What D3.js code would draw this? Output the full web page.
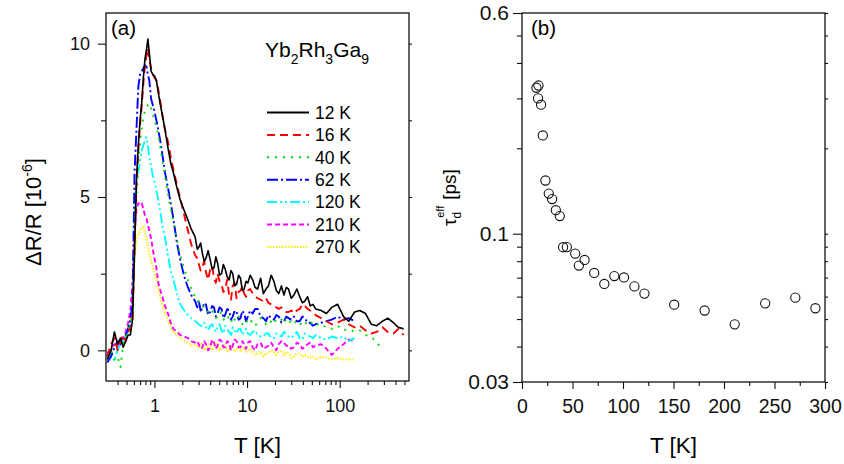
<!DOCTYPE html>
<html>
<head>
<meta charset="utf-8">
<script src="https://cdn.jsdelivr.net/npm/d3@7"></script>
<style>
body { margin: 0; background: #fff; }
svg { font-family: "Liberation Sans", Arial, sans-serif; }
.frame { fill: none; stroke: #111; stroke-width: 1.3; }
.tick line { stroke: #111; stroke-width: 1.1; }
.tick text { fill: #111; }
.trace { fill: none; stroke-linejoin: round; }
</style>
</head>
<body>
<svg id="chart" width="844" height="464"></svg>
<script>

/* Data */

// (a) pump-probe delay axis, shared by all traces
var delay = [0.31, 0.34, 0.37, 0.40, 0.43, 0.46, 0.49, 0.52, 0.55, 0.58,
    0.61, 0.64, 0.67, 0.70, 0.73, 0.76, 0.79, 0.82, 0.85, 0.88, 0.92, 0.96,
    1.0, 1.05, 1.1, 1.16, 1.23, 1.3, 1.4, 1.5, 1.6, 1.75, 1.9, 2.1, 2.3, 2.5,
    2.75, 2.9, 3.0, 3.15, 3.3, 3.45, 3.6, 3.8, 4.0, 4.2, 4.4, 4.6, 4.8, 5.05,
    5.3, 5.55, 5.8, 6.1, 6.4, 6.7, 7.0, 7.35, 7.7, 8.1, 8.5, 8.9, 9.3, 9.75,
    10.2, 10.8, 11.5, 12.2, 13, 14, 15, 16, 17, 18.2, 19.5, 20.7, 22, 23.5,
    25, 26.5, 28, 30, 32, 34.5, 37, 39.5, 42, 45, 48, 51.5, 55,
    63, 72, 82, 95, 110, 125, 145, 165, 190, 220, 250, 290, 330, 380, 430, 490];

var dr12K = [-0.3, 0.0, 0.6, 0.2, 0.4, 0.1, 0.3, 0.5, 0.5, 1.0,
    3.2, 5.6, 6.7, 7.5, 8.1, 8.9, 9.5, 9.8, 10.15, 9.7, 9.1, 9.0,
    8.95, 8.8, 8.4, 8.0, 7.6, 7.2, 6.6, 6.1, 5.8, 5.3, 4.9, 4.55, 4.25, 3.95,
    3.7, 3.3, 3.35, 3.5, 3.15, 2.9, 3.0, 3.25, 2.95, 2.65, 2.7, 3.05, 2.85, 2.45,
    2.5, 2.8, 2.65, 2.4, 2.3, 2.6, 2.5, 2.1, 2.15, 2.45, 2.35, 1.95, 2.0, 2.25,
    2.2, 2.45, 2.3, 2.05, 2.0, 2.35, 1.85, 2.0, 2.1, 2.45, 2.25, 1.95, 1.85, 2.1,
    1.8, 2.05, 2.0, 1.7, 1.8, 2.0, 1.75, 1.55, 1.6, 1.75, 1.45, 1.5, 1.35,
    1.3, 1.2, 1.4, 1.5, 1.1, 0.95, 1.25, 1.3, 1.2, 0.85, 0.8, 0.95, 1.05, 0.9, 0.75, 0.7];

var dr16K = [-0.2, 0.2, 0.4, 0.0, 0.3, 0.5, 0.3, 0.6, 0.7, 1.0,
    3.4, 5.5, 6.5, 7.4, 8.0, 8.7, 9.3, 9.6, 9.85, 9.5, 9.2, 9.0,
    8.9, 8.8, 8.5, 8.1, 7.6, 7.2, 6.8, 6.3, 5.9, 5.4, 4.95, 4.4, 3.9, 3.45,
    3.1, 3.0, 2.85, 2.6, 2.75, 2.9, 2.55, 2.3, 2.65, 2.75, 2.35, 2.2, 2.5, 2.25,
    2.15, 1.9, 2.0, 2.3, 1.8, 1.65, 2.1, 2.2, 1.7, 1.9, 1.95, 2.1, 1.85, 1.75,
    1.95, 2.0, 1.85, 1.75, 1.7, 1.65, 1.6, 1.7, 1.55, 1.5, 1.45, 1.4, 1.35, 1.4,
    1.3, 1.25, 1.25, 1.3, 1.2, 1.3, 1.35, 1.5, 1.45, 1.35, 1.3, 1.25, 1.15,
    1.05, 0.95, 0.85, 0.9, 1.0, 0.85, 0.75, 0.8, 0.65, 0.55, 0.6, 0.75, 0.6, 0.55, 0.7, 0.5];

var dr40K = [-0.2, 0.0, -0.3, -0.2, -0.55, 0.2, 0.4, 0.6, 0.9, 1.2,
    3.5, 5.0, 6.0, 6.8, 7.3, 7.6, 7.8, 7.9, 8.0, 8.05, 7.9, 7.7,
    7.5, 7.3, 7.0, 6.6, 6.1, 5.7, 5.1, 4.6, 4.2, 3.6, 3.1, 2.65, 2.3, 2.0,
    1.75, 1.65, 1.6, 1.5, 1.4, 1.45, 1.35, 1.25, 1.2, 1.3, 1.15, 1.05, 1.1, 1.25,
    1.2, 1.0, 1.05, 1.15, 1.0, 0.9, 1.1, 1.0, 0.95, 1.1, 1.0, 0.85, 0.9, 1.0,
    0.85, 0.95, 0.95, 0.8, 0.9, 1.05, 1.0, 0.85, 0.8, 0.95, 1.05, 0.9, 0.95, 1.0,
    1.1, 0.9, 0.85, 1.0, 1.0, 0.85, 0.8, 0.95, 0.95, 0.8, 0.85, 0.95, 0.9,
    0.75, 0.8, 0.7, 0.8, 0.65, 0.7, 0.6, 0.65, 0.5, 0.45, 0.25, 0.05];

var dr62K = [-0.4, -0.2, 0.1, 0.3, 0.2, 0.4, 0.5, 0.7, 1.0, 1.6,
    5.8, 7.2, 8.6, 9.0, 9.1, 9.2, 9.3, 9.25, 9.0, 8.8, 8.2, 8.0,
    7.8, 7.5, 7.2, 6.8, 6.3, 5.8, 5.3, 4.8, 4.3, 3.5, 2.95, 2.4, 2.05, 1.8,
    1.6, 1.4, 1.65, 1.3, 1.35, 1.55, 1.5, 1.15, 1.25, 1.45, 1.4, 1.1, 1.2, 1.4,
    1.35, 1.05, 1.15, 1.35, 1.3, 1.0, 1.1, 1.3, 1.25, 1.0, 1.05, 1.3, 1.2, 0.95,
    1.1, 1.3, 1.2, 1.35, 1.35, 1.1, 1.05, 0.95, 1.15, 1.05, 1.0, 1.15, 1.1, 0.9,
    0.95, 1.1, 1.05, 1.0, 1.1, 0.95, 0.95, 1.1, 1.05, 0.9, 0.9, 0.8, 0.85,
    0.9, 0.95, 1.0, 1.1, 1.0, 1.05, 0.95];

var dr120K = [-0.3, -0.1, -0.35, 0.0, 0.2, 0.3, 0.5, 0.6, 0.9, 1.3,
    4.5, 5.5, 5.8, 6.2, 6.5, 6.7, 6.85, 6.95, 6.7, 6.3, 6.0, 5.7,
    5.5, 5.2, 4.9, 4.5, 4.0, 3.7, 3.1, 2.6, 2.3, 1.85, 1.5, 1.3, 1.15, 1.05,
    0.95, 0.9, 0.85, 0.8, 0.8, 0.9, 0.75, 0.65, 0.8, 0.85, 0.7, 0.6, 0.75, 0.85,
    0.65, 0.55, 0.8, 0.7, 0.6, 0.5, 0.75, 0.65, 0.55, 0.7, 0.7, 0.5, 0.6, 0.7,
    0.55, 0.5, 0.6, 0.65, 0.5, 0.45, 0.45, 0.55, 0.55, 0.4, 0.4, 0.55, 0.5, 0.45,
    0.6, 0.55, 0.45, 0.4, 0.5, 0.6, 0.4, 0.35, 0.55, 0.5, 0.45, 0.4, 0.5,
    0.4, 0.35, 0.45, 0.4, 0.45, 0.3, 0.4];

var dr210K = [-0.1, 0.1, 0.2, 0.1, 0.3, 0.4, 0.6, 0.9, 1.3, 2.2,
    3.8, 4.6, 4.8, 4.75, 4.8, 4.6, 4.4, 4.3, 4.1, 3.9, 3.65, 3.3,
    3.0, 2.7, 2.2, 1.95, 1.7, 1.45, 1.2, 0.9, 0.7, 0.6, 0.5, 0.45, 0.4, 0.3,
    0.25, 0.3, 0.2, 0.05, 0.1, 0.3, 0.2, 0.0, 0.1, 0.35, 0.25, 0.05, 0.15, 0.35,
    0.3, 0.1, 0.1, 0.3, 0.25, 0.0, 0.15, 0.35, 0.3, 0.1, 0.1, 0.3, 0.2, 0.05,
    0.25, 0.3, 0.1, 0.0, 0.2, 0.25, 0.05, 0.1, 0.15, 0.25, 0.1, 0.0, 0.2, 0.3,
    0.25, 0.15, 0.15, 0.05, 0.1, 0.25, 0.2, 0.05, 0.1, 0.2, 0.25, 0.1, 0.15,
    0.2, 0.05, -0.15, 0.05, 0.2, 0.35, 0.3];

var dr270K = [-0.2, 0.0, 0.15, 0.1, 0.35, 0.3, 0.55, 0.8, 1.0, 1.6,
    3.0, 3.6, 3.8, 3.9, 4.0, 4.05, 3.85, 3.65, 3.4, 3.15, 2.95, 2.7,
    2.5, 2.3, 2.05, 1.7, 1.45, 1.2, 1.0, 0.75, 0.6, 0.5, 0.4, 0.3, 0.25, 0.15,
    0.2, 0.1, 0.1, 0.25, 0.2, 0.0, 0.05, 0.2, 0.15, 0.0, 0.1, 0.25, 0.2, 0.0,
    0.05, 0.2, 0.15, -0.05, 0.0, 0.15, 0.1, -0.05, 0.05, 0.1, -0.05, 0.05, 0.1, -0.05,
    0.0, 0.05, -0.05, -0.15, -0.1, -0.05, -0.2, -0.1, -0.1, 0.0, -0.05, -0.15, -0.05, 0.0,
    -0.15, -0.05, -0.1, -0.25, -0.2, -0.1, -0.1, -0.2, -0.15, -0.2, -0.25, -0.2, -0.3,
    -0.2, -0.25, -0.3, -0.25, -0.3, -0.3, -0.3];

var traceLabels = ["12 K", "16 K", "40 K", "62 K", "120 K", "210 K", "270 K"];
var traceValues = [dr12K, dr16K, dr40K, dr62K, dr120K, dr210K, dr270K];
var traceColors = ["#000000", "#ff0000", "#00dd00", "#0000ff", "#00ffff", "#ff00ff", "#ffee00"];
var traceDash = [null, "8,5", "2,6", "11,3,2,3", "10,3,2,3,2,3", "5,3", "1.5,1.5"];

var aTicksX = [1, 10, 100];
var aMinorX = [0.4, 0.5, 0.6, 0.7, 0.8, 0.9, 2, 3, 4, 5, 6, 7, 8, 9,
    20, 30, 40, 50, 60, 70, 80, 90, 200, 300, 400, 500];
var aTicksY = [0, 5, 10];
var aMinorY = [2.5, 7.5];

// (b) effective decay time vs temperature
var tempK = [14.3, 16.3, 15.9, 18.9, 20.6, 23.2, 26.5, 29.8, 33.5, 37.4,
    40.7, 44.4, 52.7, 56.3, 62, 71.5, 81.5, 91.4, 101, 111.3,
    121.2, 150.7, 180.8, 210.6, 240.8, 270.6, 290.5];
var tauEff = [0.327, 0.333, 0.300, 0.285, 0.222, 0.154, 0.1385, 0.1325, 0.121, 0.1154,
    0.0896, 0.0897, 0.0851, 0.0772, 0.0808, 0.0727, 0.0665, 0.0709, 0.0701, 0.0652,
    0.0615, 0.0562, 0.0536, 0.0479, 0.0568, 0.0595, 0.0546];

var bTicksX = [0, 50, 100, 150, 200, 250, 300];
var bMinorX = [25, 75, 125, 175, 225, 275];
var bTicksY = [0.03, 0.1, 0.6];
var bMinorY = [0.04, 0.05, 0.06, 0.07, 0.08, 0.09, 0.2, 0.3, 0.4, 0.5];

/* Renderer */

var svg = d3.select("#chart");

var draw_ticks = function (g, axis, cls) {
    g.attr("class", cls).call(axis);
    g.select(".domain").remove();
    return g;
};

// ---------- panel (a)
var xa = d3.scaleLog().domain([0.3, 560]).range([106, 409]);
var ya = d3.scaleLinear().domain([-1, 11]).range([381, 13]);

svg.append("clipPath").attr("id", "clipA")
    .append("rect")
    .attr("x", 106).attr("y", 13)
    .attr("width", 303).attr("height", 368);

var line = d3.line()
    .defined(function (d) { return d[1] != null; })
    .x(function (d) { return xa(d[0]); })
    .y(function (d) { return ya(d[1]); });

var traces = svg.append("g").attr("clip-path", "url(#clipA)");

// draw slow curves first so black stays on top
for (var k = traceValues.length - 1; k >= 0; k--) {
    var pts = traceValues[k].map(function (v, i) { return [delay[i], v]; });
    traces.append("path")
        .attr("class", "trace")
        .attr("d", line(pts))
        .attr("stroke", traceColors[k])
        .attr("stroke-width", k === 0 ? 1.6 : 1.9)
        .attr("stroke-dasharray", traceDash[k]);
}

draw_ticks(svg.append("g").attr("transform", "translate(0,381)"),
    d3.axisBottom(xa).tickValues(aTicksX).tickSize(7).tickPadding(11)
        .tickFormat(d3.format("d")), "ax")
    .selectAll("text").style("font-size", "18px");
draw_ticks(svg.append("g").attr("transform", "translate(0,381)"),
    d3.axisBottom(xa).tickValues(aMinorX).tickSize(4).tickFormat(""), "ax");

draw_ticks(svg.append("g").attr("transform", "translate(106,0)"),
    d3.axisLeft(ya).tickValues(aTicksY).tickSize(8).tickPadding(8)
        .tickFormat(d3.format("d")), "ax")
    .selectAll("text").style("font-size", "18px");
draw_ticks(svg.append("g").attr("transform", "translate(106,0)"),
    d3.axisLeft(ya).tickValues(aMinorY).tickSize(5).tickFormat(""), "ax");
draw_ticks(svg.append("g").attr("transform", "translate(409,0)"),
    d3.axisRight(ya).tickValues(aTicksY.concat(aMinorY)).tickSize(3).tickFormat(""), "ax");

svg.append("rect").attr("class", "frame")
    .attr("x", 106).attr("y", 13).attr("width", 303).attr("height", 368);

svg.append("text").attr("x", 111).attr("y", 35)
    .style("font-size", "20.5px").text("(a)");

// compound label
var comp = svg.append("text").attr("x", 265).attr("y", 57).style("font-size", "21px");
comp.append("tspan").text("Yb");
comp.append("tspan").attr("dy", 7).style("font-size", "14px").text("2");
comp.append("tspan").attr("dy", -7).text("Rh");
comp.append("tspan").attr("dy", 7).style("font-size", "14px").text("3");
comp.append("tspan").attr("dy", -7).text("Ga");
comp.append("tspan").attr("dy", 7).style("font-size", "14px").text("9");

// legend
var legend = svg.append("g");
traceLabels.forEach(function (lab, i) {
    var y = 112.5 + i * 22.4;
    legend.append("line")
        .attr("x1", 267).attr("x2", 309).attr("y1", y).attr("y2", y)
        .attr("stroke", traceColors[i])
        .attr("stroke-width", i === 0 ? 1.8 : 2)
        .attr("stroke-dasharray", traceDash[i]);
    legend.append("text")
        .attr("x", 315).attr("y", y + 6.3)
        .style("font-size", "17.5px")
        .text(lab);
});

svg.append("text").attr("x", 257.5).attr("y", 453)
    .attr("text-anchor", "middle").style("font-size", "22.5px").text("T [K]");

var ylabA = svg.append("text")
    .attr("transform", "translate(41,212) rotate(-90)")
    .attr("text-anchor", "middle").style("font-size", "22px");
ylabA.append("tspan").text("\u0394R/R [10");
ylabA.append("tspan").attr("dy", -9).style("font-size", "14px").text("-6");
ylabA.append("tspan").attr("dy", 9).text("]");

// ---------- panel (b)
var xb = d3.scaleLinear().domain([0, 300]).range([522, 825]);
var yb = d3.scaleLog().domain([0.03, 0.6]).range([382, 13]);

draw_ticks(svg.append("g").attr("transform", "translate(0,382)"),
    d3.axisBottom(xb).tickValues(bTicksX).tickSize(7).tickPadding(10)
        .tickFormat(d3.format("d")), "ax")
    .selectAll("text").style("font-size", "19.5px");
draw_ticks(svg.append("g").attr("transform", "translate(0,382)"),
    d3.axisBottom(xb).tickValues(bMinorX).tickSize(4).tickFormat(""), "ax");

draw_ticks(svg.append("g").attr("transform", "translate(522,0)"),
    d3.axisLeft(yb).tickValues(bTicksY).tickSize(9).tickPadding(4)
        .tickFormat(function (d) { return String(d); }), "ax")
    .selectAll("text").style("font-size", "21px");
draw_ticks(svg.append("g").attr("transform", "translate(522,0)"),
    d3.axisLeft(yb).tickValues(bMinorY).tickSize(5).tickFormat(""), "ax");
draw_ticks(svg.append("g").attr("transform", "translate(825,0)"),
    d3.axisRight(yb).tickValues(bTicksY.concat(bMinorY)).tickSize(3).tickFormat(""), "ax");

svg.append("g").selectAll("circle")
    .data(tempK.map(function (t, i) { return [t, tauEff[i]]; }))
    .enter().append("circle")
    .attr("cx", function (d) { return xb(d[0]); })
    .attr("cy", function (d) { return yb(d[1]); })
    .attr("r", 4.6)
    .attr("fill", "none")
    .attr("stroke", "#111")
    .attr("stroke-width", 1.1);

svg.append("rect").attr("class", "frame")
    .attr("x", 522).attr("y", 13).attr("width", 303).attr("height", 369);

svg.append("text").attr("x", 531).attr("y", 35)
    .style("font-size", "20.5px").text("(b)");

svg.append("text").attr("x", 673.5).attr("y", 453)
    .attr("text-anchor", "middle").style("font-size", "22.5px").text("T [K]");

var ylabB = svg.append("text")
    .attr("transform", "translate(456,226) rotate(-90)")
    .style("font-size", "19px");
ylabB.append("tspan").text("\u03c4");
ylabB.append("tspan").attr("dy", 5).style("font-size", "12px").text("d");
ylabB.append("tspan").attr("dx", -6).attr("dy", -17).style("font-size", "11px").text("eff");
ylabB.append("tspan").attr("dx", 6).attr("dy", 12).text("[ps]");

</script>
</body>
</html>
